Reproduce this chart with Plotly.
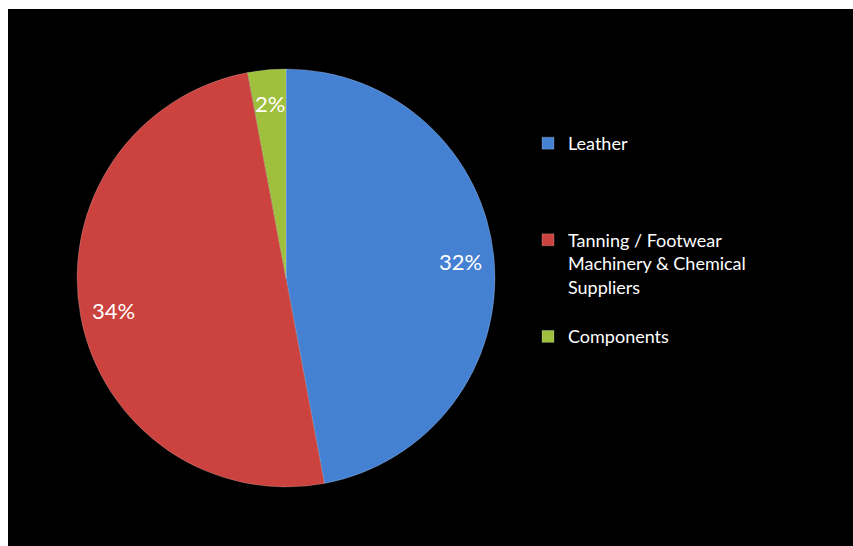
import math
import plotly.graph_objects as go

labels = ["Leather", "Tanning / Footwear<br>Machinery & Chemical<br>Suppliers", "Components"]
values = [32, 34, 2]
colors = ["#4581D2", "#CC423E", "#9FC03D"]
# extra blank lines so legend entries are spaced like the reference
legend_pad = ["<br>\u00a0<br>\u00a0<br>\u00a0", "<br>\u00a0", ""]

W, H = 853, 546
CX, CY, R = 286, 278, 209
LABEL_R = 0.84

fig = go.Figure()
fig.add_trace(go.Pie(
    labels=[l + p for l, p in zip(labels, legend_pad)],
    values=values,
    sort=False,
    direction="clockwise",
    rotation=0,
    marker=dict(colors=colors, line=dict(color="rgba(255,255,255,0.25)", width=0.8)),
    textinfo="none",
    hoverinfo="label+value",
    domain=dict(x=[(CX - R) / W, (CX + R) / W], y=[1 - (CY + R) / H, 1 - (CY - R) / H]),
))

total = sum(values)
cum = 0
annotations = []
for v in values:
    a = math.radians(360 * (cum + v / 2) / total)
    px = CX + LABEL_R * R * math.sin(a)
    py = CY - LABEL_R * R * math.cos(a)
    annotations.append(dict(
        x=px / W, y=1 - py / H, xref="paper", yref="paper",
        text=f"{v}%", showarrow=False,
        font=dict(family="Lato", size=22, color="white"),
        xanchor="center", yanchor="middle",
    ))
    cum += v

fig.update_layout(
    width=W, height=H,
    margin=dict(l=0, r=0, t=0, b=0),
    paper_bgcolor="black",
    plot_bgcolor="black",
    font=dict(family="Lato", color="white"),
    showlegend=True,
    legend=dict(
        x=528 / W, y=1 - 125 / H, xanchor="left", yanchor="top",
        font=dict(family="Lato", size=18, color="white"),
        valign="top",
        bgcolor="rgba(0,0,0,0)",
    ),
    annotations=annotations,
    shapes=[
        dict(type="rect", xref="paper", yref="paper", x0=0, x1=8 / W, y0=0, y1=1,
             fillcolor="white", line=dict(width=0), layer="above"),
        dict(type="rect", xref="paper", yref="paper", x0=0, x1=1, y0=1 - 9 / H, y1=1,
             fillcolor="white", line=dict(width=0), layer="above"),
    ],
)

fig.write_html("out.html", config={"displayModeBar": False},
               post_script="document.body.style.margin='0px';")
